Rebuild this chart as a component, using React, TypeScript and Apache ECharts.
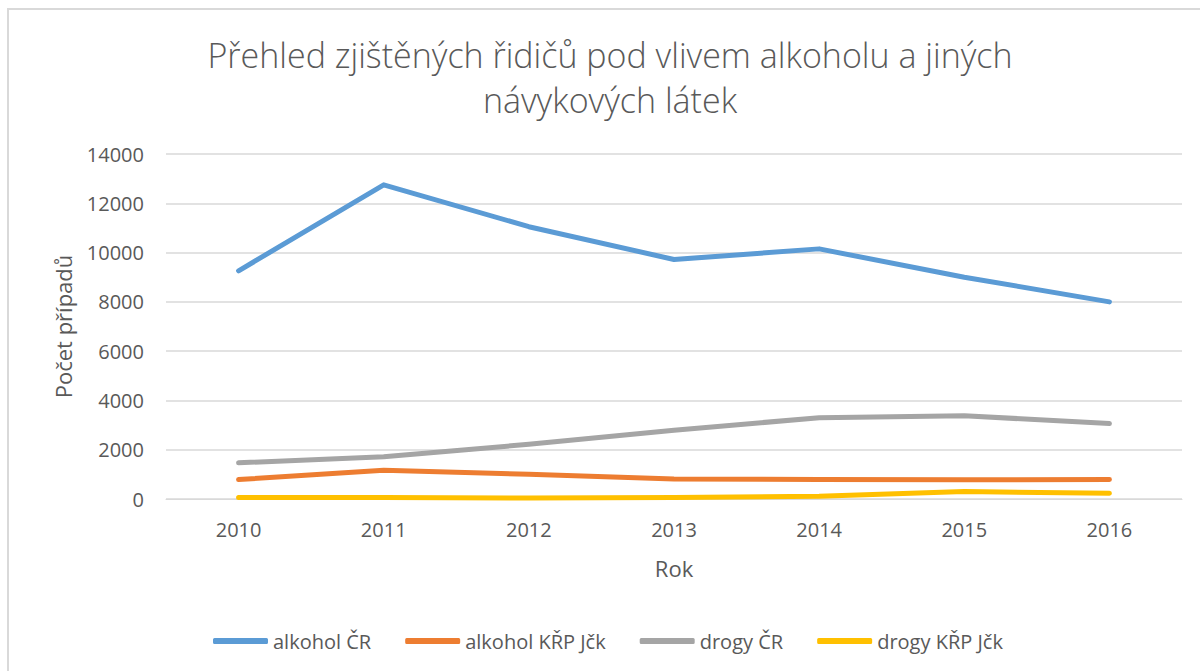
import React, { useEffect, useRef } from "react";
import * as echarts from "echarts";

const years = ["2010", "2011", "2012", "2013", "2014", "2015", "2016"];
const alkoholCR = [9260, 12750, 11050, 9720, 10150, 9000, 8000];
const alkoholKRP = [790, 1165, 1000, 810, 790, 780, 790];
const drogyCR = [1470, 1710, 2220, 2790, 3300, 3380, 3060];
const drogyKRP = [60, 60, 40, 60, 110, 300, 230];
const yTicks = { min: 0, max: 14000, interval: 2000 };

const seriesNames = ["alkohol ČR", "alkohol KŘP Jčk", "drogy ČR", "drogy KŘP Jčk"];
const seriesColors = ["#5b9bd5", "#ed7d31", "#a5a5a5", "#ffc000"];
const seriesData = [alkoholCR, alkoholKRP, drogyCR, drogyKRP];

const FONT = "Open Sans";

export default function App() {
  const ref = useRef<HTMLDivElement>(null);
  useEffect(() => {
    document.body.style.margin = "0";
    const chart = echarts.init(ref.current!, null, { renderer: "svg" });
    chart.setOption({
      animation: false,
      backgroundColor: "#ffffff",
      textStyle: { fontFamily: FONT },
      graphic: [
        {
          type: "rect",
          shape: { x: 8, y: 9, width: 1250, height: 700 },
          style: { fill: "none", stroke: "#d9d9d9", lineWidth: 2 },
          silent: true,
        },
      ],
      title: {
        text: "Přehled zjištěných řidičů pod vlivem alkoholu a jiných\nnávykových látek",
        left: 605,
        top: 27,
        textAlign: "center",
        textStyle: {
          fontFamily: FONT,
          fontWeight: 300,
          fontSize: 34,
          lineHeight: 45,
          color: "#595959",
        },
      },
      legend: {
        left: 208,
        top: 626,
        icon: "roundRect",
        itemWidth: 55,
        itemHeight: 6,
        itemGap: 34,
        textStyle: { fontFamily: FONT, fontSize: 20, color: "#595959" },
        data: seriesNames,
      },
      grid: { left: 166, right: 18, top: 154, bottom: 172 },
      xAxis: {
        type: "category",
        data: years,
        boundaryGap: true,
        name: "Rok",
        nameLocation: "middle",
        nameGap: 58,
        nameTextStyle: { fontFamily: FONT, fontSize: 22, color: "#595959" },
        axisLine: { lineStyle: { color: "#d9d9d9", width: 1 } },
        axisTick: { show: false },
        axisLabel: { fontFamily: FONT, fontSize: 20, color: "#595959", margin: 20 },
      },
      yAxis: {
        type: "value",
        min: yTicks.min,
        max: yTicks.max,
        interval: yTicks.interval,
        name: "Počet případů",
        nameLocation: "middle",
        nameGap: 92,
        nameRotate: 90,
        nameTextStyle: { fontFamily: FONT, fontSize: 22, color: "#595959" },
        axisLine: { show: false },
        axisTick: { show: false },
        splitLine: { lineStyle: { color: "#d9d9d9", width: 1.5 } },
        axisLabel: {
          fontFamily: FONT,
          fontSize: 20,
          color: "#595959",
          margin: 22,
          formatter: (v: number) => String(v),
        },
      },
      series: seriesNames.map((name, i) => ({
        name,
        type: "line",
        data: seriesData[i],
        showSymbol: false,
        symbol: "none",
        color: seriesColors[i],
        lineStyle: { width: 5, color: seriesColors[i], cap: "round", join: "round" },
        z: 10 - i,
      })),
    });
    return () => chart.dispose();
  }, []);
  return <div ref={ref} style={{ width: 1200, height: 671 }} />;
}
